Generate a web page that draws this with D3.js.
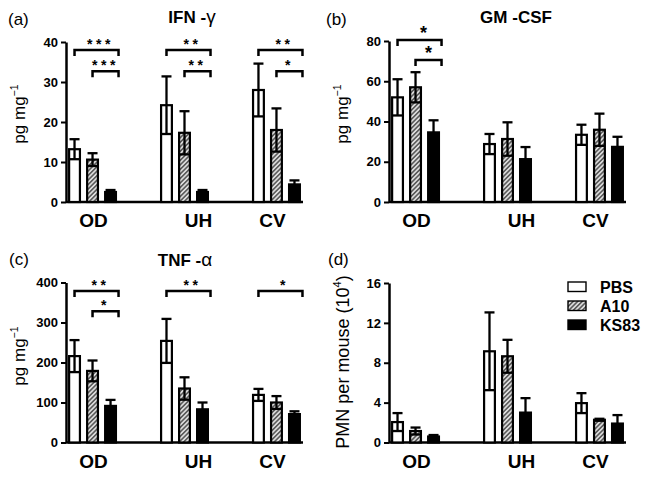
<!DOCTYPE html>
<html><head><meta charset="utf-8">
<script src="https://cdn.jsdelivr.net/npm/d3@7"></script>
<style>body{margin:0;background:#fff}svg{display:block}</style>
</head><body>
<script>
// ---------- DATA ----------
const categories = ["OD", "UH", "CV"];
const seriesNames = ["PBS", "A10", "KS83"];

// (a) IFN-γ, pg mg-1
const ifnPBS = [13.2, 24.2, 28.0];
const ifnA10 = [10.6, 17.3, 18.0];
const ifnKS83 = [2.5, 2.5, 4.4];
const ifnPBSerr = [2.5, 7.2, 6.6];
const ifnA10err = [1.6, 5.4, 5.4];
const ifnKS83err = [0.5, 0.5, 1.0];
const ifnTicks = [0, 10, 20, 30, 40];
const ifnSig = [["OD", 0, 2, "***", 38], ["OD", 1, 2, "***", 32.7], ["UH", 0, 2, "**", 38], ["UH", 1, 2, "**", 32.7], ["CV", 0, 2, "**", 38], ["CV", 1, 2, "*", 32.7]];

// (b) GM-CSF, pg mg-1
const gmPBS = [52.0, 28.8, 33.4];
const gmA10 = [57.0, 31.3, 35.9];
const gmKS83 = [34.6, 21.3, 27.4];
const gmPBSerr = [9.0, 5.0, 5.0];
const gmA10err = [7.5, 8.3, 8.0];
const gmKS83err = [6.0, 6.0, 5.0];
const gmTicks = [0, 20, 40, 60, 80];
const gmSig = [["OD", 0, 2, "*", 80.5], ["OD", 1, 2, "*", 70.5]];

// (c) TNF-α, pg mg-1
const tnfPBS = [216, 254, 119];
const tnfA10 = [179, 135, 100];
const tnfKS83 = [91.5, 83, 71];
const tnfPBSerr = [40, 55, 15];
const tnfA10err = [26, 28, 16];
const tnfKS83err = [15, 17, 7];
const tnfTicks = [0, 100, 200, 300, 400];
const tnfSig = [["OD", 0, 2, "**", 379], ["OD", 1, 2, "*", 328], ["UH", 0, 2, "**", 379], ["CV", 0, 2, "*", 379]];

// (d) PMN per mouse (10^4)
const pmnPBS = [2.05, 9.15, 3.95];
const pmnA10 = [1.15, 8.65, 2.28];
const pmnKS83 = [0.6, 3.0, 1.9];
const pmnPBSerr = [0.9, 3.9, 1.0];
const pmnA10err = [0.35, 1.65, 0.1];
const pmnKS83err = [0.15, 1.45, 0.85];
const pmnTicks = [0, 4, 8, 12, 16];

// ---------- LAYOUT ----------
const W = 646, H = 478;
const FONT = "'Liberation Sans', Arial, sans-serif";
const labelShift = { OD: 1, UH: 14, CV: -4 };

const panels = [
  { tag: "(a)", tagX: 8, tagY: 24.5, title: "IFN -", greek: "γ", titleX: 192, titleY: 23,
    left: 66, right: 303, top: 42, bottom: 202, max: 40, ticks: ifnTicks,
    means: [ifnPBS, ifnA10, ifnKS83], errs: [ifnPBSerr, ifnA10err, ifnKS83err], sig: ifnSig, starSize: 14,
    yl: "pg mg", ylSup: "−1", ylX: 25, ylY: 114, ylSize: 17 },
  { tag: "(b)", tagX: 326, tagY: 24.5, title: "GM -CSF", greek: "", titleX: 516, titleY: 23,
    left: 389, right: 626, top: 41, bottom: 202, max: 80, ticks: gmTicks,
    means: [gmPBS, gmA10, gmKS83], errs: [gmPBSerr, gmA10err, gmKS83err], sig: gmSig, starSize: 18,
    yl: "pg mg", ylSup: "−1", ylX: 348, ylY: 114, ylSize: 17 },
  { tag: "(c)", tagX: 9, tagY: 265, title: "TNF -", greek: "α", titleX: 185, titleY: 266,
    left: 66, right: 303, top: 282.5, bottom: 442.5, max: 400, ticks: tnfTicks,
    means: [tnfPBS, tnfA10, tnfKS83], errs: [tnfPBSerr, tnfA10err, tnfKS83err], sig: tnfSig, starSize: 14,
    yl: "pg mg", ylSup: "−1", ylX: 25, ylY: 356, ylSize: 17 },
  { tag: "(d)", tagX: 328, tagY: 264.5, title: "", greek: "", titleX: 0, titleY: 0,
    left: 389, right: 626, top: 283, bottom: 442.5, max: 16, ticks: pmnTicks,
    means: [pmnPBS, pmnA10, pmnKS83], errs: [pmnPBSerr, pmnA10err, pmnKS83err], sig: [], starSize: 14,
    yl: "PMN per mouse (10", ylSup: "4", ylTail: ")", ylX: 349, ylY: 362, ylSize: 18, legend: true }
];

const svg = d3.select("body").append("svg").attr("width", W).attr("height", H)
  .style("font-family", FONT);

const defs = svg.append("defs");
const pat = defs.append("pattern").attr("id", "hatch").attr("patternUnits", "userSpaceOnUse")
  .attr("width", 3.2).attr("height", 3.2).attr("patternTransform", "rotate(45)");
pat.append("rect").attr("width", 3.2).attr("height", 3.2).attr("fill", "#dcdcdc");
pat.append("line").attr("x1", 0.8).attr("y1", 0).attr("x2", 0.8).attr("y2", 3.2)
  .attr("stroke", "#4a4a4a").attr("stroke-width", 1.4);

const fills = { PBS: "#fff", A10: "url(#hatch)", KS83: "#000" };

panels.forEach(p => {
  const g = svg.append("g");
  const x = d3.scaleBand().domain(categories).range([p.left, p.right])
    .paddingInner(0.467).paddingOuter(0.022);
  const xs = d3.scaleBand().domain(seriesNames).range([0, x.bandwidth()]).paddingInner(0.278);
  const y = d3.scaleLinear().domain([0, p.max]).range([p.bottom, p.top]);

  // tag & title
  g.append("text").attr("x", p.tagX).attr("y", p.tagY).attr("font-size", 17).text(p.tag);
  if (p.title) {
    const t = g.append("text").attr("x", p.titleX).attr("y", p.titleY).attr("text-anchor", "middle")
      .attr("font-size", 17).attr("font-weight", "bold");
    t.append("tspan").text(p.title);
    if (p.greek) t.append("tspan").attr("font-weight", "normal").attr("font-size", 19).text(p.greek);
  }

  // y axis
  const ax = g.append("g").attr("transform", `translate(${p.left},0)`)
    .call(d3.axisLeft(y).tickValues(p.ticks).tickSize(5).tickSizeOuter(0).tickPadding(3));
  ax.select(".domain").attr("stroke-width", 2.5);
  ax.selectAll(".tick line").attr("stroke-width", 2);
  ax.selectAll(".tick text").attr("font-size", 13).attr("font-weight", "bold")
    .attr("font-family", FONT).attr("fill", "#000");

  // x axis line
  g.append("line").attr("x1", p.left).attr("x2", p.right).attr("y1", y(0)).attr("y2", y(0))
    .attr("stroke", "#000").attr("stroke-width", 2.5);

  // category labels
  g.selectAll(".cat").data(categories).join("text")
    .attr("x", c => x(c) + x.bandwidth() / 2 + labelShift[c]).attr("y", p.bottom + 25)
    .attr("text-anchor", "middle").attr("font-size", 19).attr("font-weight", "bold").text(c => c);

  // y label
  const yl = g.append("text").attr("transform", `translate(${p.ylX},${p.ylY}) rotate(-90)`)
    .attr("text-anchor", "middle").attr("font-size", p.ylSize);
  yl.append("tspan").text(p.yl);
  yl.append("tspan").attr("font-size", p.ylSize * 0.62).attr("dy", -p.ylSize * 0.42).text(p.ylSup);
  if (p.ylTail) yl.append("tspan").attr("dy", p.ylSize * 0.42).text(p.ylTail);

  // bars
  const data = [];
  categories.forEach((c, ci) => seriesNames.forEach((s, si) =>
    data.push({ c, s, m: p.means[si][ci], e: p.errs[si][ci] })));
  const bw = xs.bandwidth();
  g.selectAll(".bar").data(data).join("rect")
    .attr("x", d => x(d.c) + xs(d.s) + 1.1).attr("width", bw - 2.2)
    .attr("y", d => y(d.m)).attr("height", d => y(0) - y(d.m))
    .attr("fill", d => fills[d.s]).attr("stroke", "#000").attr("stroke-width", 2.2);

  // error bars
  const eg = g.selectAll(".err").data(data).join("g")
    .attr("transform", d => `translate(${x(d.c) + xs(d.s) + bw / 2},0)`);
  eg.append("line").attr("y1", d => y(d.m - d.e)).attr("y2", d => y(d.m + d.e))
    .attr("stroke", "#000").attr("stroke-width", 2.3);
  eg.append("line").attr("x1", -5).attr("x2", 5).attr("y1", d => y(d.m + d.e)).attr("y2", d => y(d.m + d.e))
    .attr("stroke", "#000").attr("stroke-width", 2.3);
  eg.append("line").attr("x1", -5).attr("x2", 5).attr("y1", d => y(d.m - d.e)).attr("y2", d => y(d.m - d.e))
    .attr("stroke", "#000").attr("stroke-width", 2.3);

  // significance brackets
  p.sig.forEach(([c, i, j, lab, lev]) => {
    const x1 = x(c) + xs(seriesNames[i]) + bw / 2;
    const x2 = x(c) + xs(seriesNames[j]) + bw / 2 + 8;
    const yy = y(lev);
    g.append("path").attr("d", `M${x1},${yy + 6}V${yy}H${x2}V${yy + 6}`)
      .attr("fill", "none").attr("stroke", "#000").attr("stroke-width", 2.5);
    g.append("text").attr("x", (x1 + x2) / 2 + (j - i === 2 ? 4 : 0)).attr("y", yy - 1)
      .attr("text-anchor", "middle").attr("font-size", p.starSize).attr("font-weight", "bold")
      .attr("letter-spacing", p.starSize === 14 ? 3.5 : 0).text(lab);
  });

  // legend
  if (p.legend) {
    const lg = g.append("g");
    seriesNames.forEach((s, k) => {
      const yy = 282 + k * 19;
      lg.append("rect").attr("x", 568).attr("y", yy).attr("width", 18).attr("height", 9.5)
        .attr("fill", fills[s]).attr("stroke", "#000").attr("stroke-width", 1.4);
      lg.append("text").attr("x", 600).attr("y", yy + 11).attr("font-size", 16)
        .attr("font-weight", "bold").text(s);
    });
  }
});
</script>
</body></html>
